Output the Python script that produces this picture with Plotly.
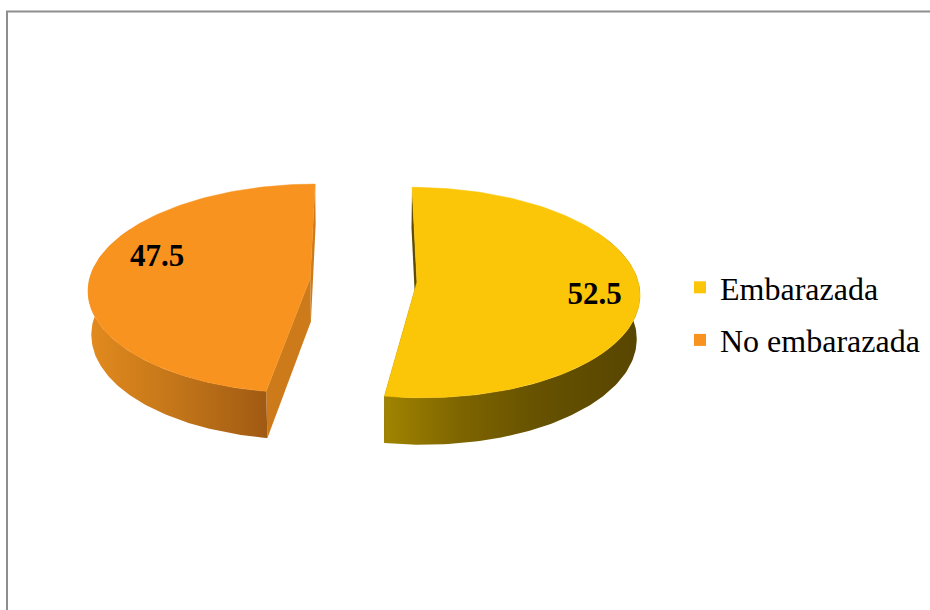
import numpy as np
import plotly.graph_objects as go

# ---- data ----
categories = ["Embarazada", "No embarazada"]
values = [52.5, 47.5]
value_labels = ["52.5", "47.5"]

# ---- style ----
top_colors = ["#FCC608", "#F7931E"]
cut_colors = ["#5E4A00", "#CD7B1A"]
legend_colors = ["#FCC608", "#F7931E"]
wall_scales = [
    [[0, "#A08400"], [0.3, "#7E6400"], [0.6, "#665200"], [1, "#584500"]],
    [[0, "#E28A1E"], [0.5, "#C27519"], [1, "#A05A12"]],
]
label_shift_deg = [5, 11]
label_radius = [0.80, 0.74]

W, H = 930, 610
# pseudo-3D camera (pixel space)
cx, cy = 363.5, 280.0
eps = np.radians(28.0)
D = 8.8
A = 221.0
f = A * D
t = 0.226
explode = 0.242


def proj(X, Y, Z):
    s, c = np.sin(eps), np.cos(eps)
    d = D + Z * c - Y * s
    v = Y * c + Z * s
    return cx + f * X / d, cy - f * v / d


total = sum(values)
fracs = np.cumsum([0] + values) / total
fig = go.Figure()

slices = []
for i, v in enumerate(values):
    a0, a1 = 2 * np.pi * fracs[i], 2 * np.pi * fracs[i + 1]
    bis = (a0 + a1) / 2
    ox, oz = explode * np.sin(bis), explode * np.cos(bis)
    slices.append((a0, a1, bis, ox, oz))


def arc(a0, a1, ox, oz, Y, n=120):
    th = np.linspace(a0, a1, n)
    return proj(ox + np.sin(th), Y, oz + np.cos(th))


# cut faces
for i, (a0, a1, bis, ox, oz) in enumerate(slices):
    for a in (a0, a1):
        pts = [proj(ox, 0, oz), proj(ox + np.sin(a), 0, oz + np.cos(a)),
               proj(ox + np.sin(a), -t, oz + np.cos(a)), proj(ox, -t, oz)]
        xs = [p[0] for p in pts] + [pts[0][0]]
        ys = [p[1] for p in pts] + [pts[0][1]]
        fig.add_trace(go.Scatter(x=xs, y=ys, mode="lines", fill="toself",
                                 fillcolor=cut_colors[i], line=dict(width=0, color=cut_colors[i]),
                                 showlegend=False, hoverinfo="skip"))

# outer walls (front part)
for i, (a0, a1, bis, ox, oz) in enumerate(slices):
    w0, w1 = max(a0, np.radians(60)), min(a1, np.radians(300))
    if w1 <= w0:
        continue
    xt, yt = arc(w0, w1, ox, oz, 0)
    xb, yb = arc(w0, w1, ox, oz, -t)
    xs = np.concatenate([xt, xb[::-1], xt[:1]])
    ys = np.concatenate([yt, yb[::-1], yt[:1]])
    fig.add_trace(go.Scatter(x=xs, y=ys, mode="lines", fill="toself",
                             fillgradient=dict(type="horizontal", colorscale=wall_scales[i]),
                             line=dict(width=0), showlegend=False, hoverinfo="skip"))

# top faces
for i, (a0, a1, bis, ox, oz) in enumerate(slices):
    xt, yt = arc(a0, a1, ox, oz, 0)
    px, py = proj(ox, 0, oz)
    xs = np.concatenate([[px], xt, [px]])
    ys = np.concatenate([[py], yt, [py]])
    fig.add_trace(go.Scatter(x=xs, y=ys, mode="lines", fill="toself",
                             fillcolor=top_colors[i], line=dict(width=0.5, color=top_colors[i]),
                             showlegend=False, hoverinfo="skip"))

# value labels
for i, (a0, a1, bis, ox, oz) in enumerate(slices):
    la = bis + np.radians(label_shift_deg[i])
    r = label_radius[i]
    lx, ly = proj(ox + r * np.sin(la), 0, oz + r * np.cos(la))
    fig.add_trace(go.Scatter(x=[lx], y=[ly], mode="text", text=[value_labels[i]],
                             textfont=dict(family="Liberation Serif", size=31, color="black"),
                             texttemplate="<b>%{text}</b>",
                             showlegend=False, hoverinfo="skip"))

# legend entries
for i, name in enumerate(categories):
    fig.add_trace(go.Scatter(x=[None], y=[None], mode="markers", name=name,
                             legendgroup=name,
                             marker=dict(symbol="square", size=16, color=legend_colors[i])))

fig.update_layout(
    width=W, height=H,
    margin=dict(l=0, r=0, t=0, b=0),
    paper_bgcolor="white", plot_bgcolor="white",
    xaxis=dict(range=[0, W], visible=False, fixedrange=True),
    yaxis=dict(range=[H, 0], visible=False, fixedrange=True),
    showlegend=True,
    legend=dict(x=680 / W, y=1 - 314 / H, xanchor="left", yanchor="middle",
                font=dict(family="Liberation Serif", size=32, color="black"),
                tracegroupgap=8, traceorder="grouped", itemsizing="constant",
                bgcolor="rgba(0,0,0,0)"),
    hovermode=False,
    shapes=[dict(type="rect", xref="x", yref="y", x0=7, y0=11.5, x1=W + 10, y1=H + 10,
                 line=dict(color="#8E8E8E", width=2), fillcolor="rgba(0,0,0,0)")],
)

fig.write_html("out.html")
